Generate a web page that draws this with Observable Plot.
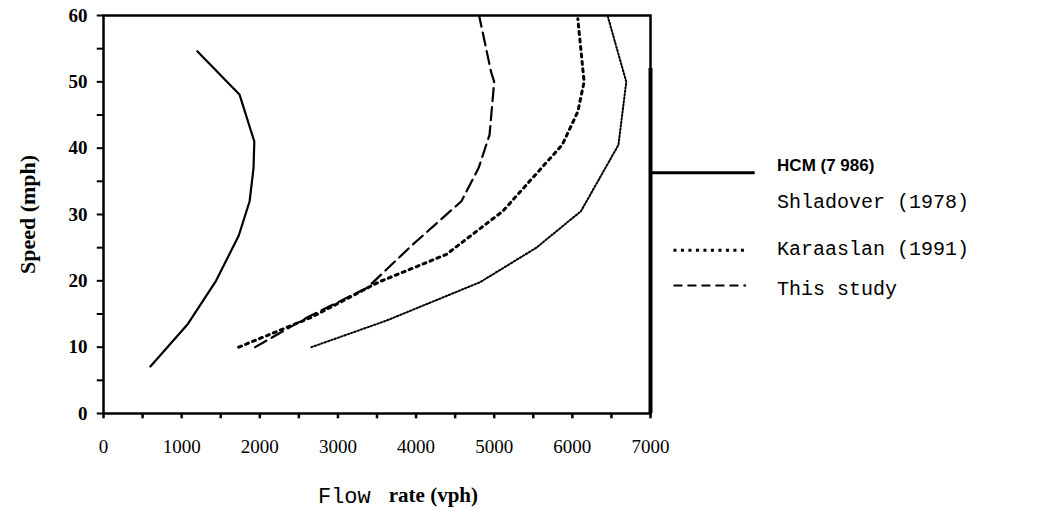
<!DOCTYPE html>
<html>
<head>
<meta charset="UTF-8">
<script src="https://cdn.jsdelivr.net/npm/d3@7"></script>
<script src="https://cdn.jsdelivr.net/npm/@observablehq/plot@0.6"></script>
<style>
  body { margin: 0; background: #fff; }
</style>
</head>
<body>
<div id="chart"></div>
<script>
// flow (vph) vs speed (mph)
const hcmFlow = [600, 1080, 1440, 1730, 1870, 1920, 1930, 1740, 1200];
const hcmSpeed = [7.1, 13.5, 20, 26.8, 32, 37, 41, 48.1, 54.6];

const shlFlow = [2660, 3620, 4820, 5540, 6110, 6590, 6690, 6450];
const shlSpeed = [10, 14, 19.8, 25, 30.5, 40.5, 50, 60];

const karFlow = [1730, 2660, 3520, 4390, 5110, 5870, 6070, 6150, 6070];
const karSpeed = [10, 14.5, 19.8, 24, 30.5, 40.5, 45.5, 50, 59.5];

const studyFlow = [1940, 2610, 3380, 3960, 4580, 4800, 4940, 5000, 4960, 4810];
const studySpeed = [10, 14.5, 19, 25.5, 32, 37, 42, 50, 51.5, 59.8];

const legendNames = ["HCM (7 986)", "Shladover (1978)", "Karaaslan (1991)", "This study"];

const xLabels = [0, 1000, 2000, 3000, 4000, 5000, 6000, 7000];
const yLabels = [0, 10, 20, 30, 40, 50, 60];

const pts = (xs, ys) => xs.map((x, i) => ({x, y: ys[i]}));

const serif = "'Liberation Serif', 'DejaVu Serif', serif";
const mono = "'Liberation Mono', 'DejaVu Sans Mono', monospace";

const plot = Plot.plot({
  width: 1041,
  height: 510,
  marginLeft: 103,
  marginRight: 391,
  marginTop: 15,
  marginBottom: 97,
  x: {type: "linear", domain: [0, 7000], axis: null},
  y: {type: "linear", domain: [0, 60], axis: null},
  marks: [
    // ticks
    Plot.ruleX(d3.range(0, 7001, 500), {x: d => d, y1: 0, y2: -0.8, stroke: "#000", strokeWidth: 2.5, clip: false}),
    Plot.ruleY(d3.range(0, 61, 5), {y: d => d, x1: 0, x2: -80, stroke: "#000", strokeWidth: 2, clip: false}),
    Plot.text(xLabels, {x: d => d, y: 0, dy: 33, text: d => String(d), fontFamily: serif, fontSize: 19}),
    Plot.text(yLabels, {y: d => d, x: 0, dx: -16, textAnchor: "end", text: d => String(d), fontFamily: serif, fontWeight: "bold", fontSize: 19}),
    Plot.frame({stroke: "#000", strokeWidth: 2.5}),
    Plot.ruleX([7000], {y1: 0, y2: 52, stroke: "#000", strokeWidth: 4}),
    // curves
    Plot.line(pts(hcmFlow, hcmSpeed), {x: "x", y: "y", stroke: "#000", strokeWidth: 2.2}),
    Plot.line(pts(shlFlow, shlSpeed), {x: "x", y: "y", stroke: "#000", strokeWidth: 2, strokeDasharray: "1.5,2"}),
    Plot.line(pts(karFlow, karSpeed), {x: "x", y: "y", stroke: "#000", strokeWidth: 3, strokeDasharray: "3,4.5"}),
    Plot.line(pts(studyFlow, studySpeed), {x: "x", y: "y", stroke: "#000", strokeWidth: 2.2, strokeDasharray: "13,6"}),
    // legend
    Plot.ruleY([36.3], {x1: 7000, x2: 8340, stroke: "#000", strokeWidth: 3, clip: false}),
    Plot.ruleY([24.6], {x1: 7300, x2: 8230, stroke: "#000", strokeWidth: 3, strokeDasharray: "3,4.5", clip: false}),
    Plot.ruleY([19.3], {x1: 7300, x2: 8230, stroke: "#000", strokeWidth: 2.2, strokeDasharray: "9,5", clip: false}),
    Plot.text([legendNames[0]], {x: 8620, y: 37.4, text: d => d, textAnchor: "start", fontFamily: "'Liberation Sans Narrow', 'Liberation Sans', sans-serif", fontWeight: "bold", fontSize: 17}),
    Plot.text(legendNames.slice(1), {x: 8620, y: [31.9, 24.9, 18.8], text: d => d, textAnchor: "start", fontFamily: mono, fontSize: 20}),
    // axis titles
    Plot.text(["Speed (mph)"], {x: 0, y: 30, dx: -76, rotate: -90, text: d => d, fontFamily: serif, fontWeight: "bold", fontSize: 22}),
    Plot.text(["Flow"], {x: 3420, y: 0, dy: 82, textAnchor: "end", text: d => d, fontFamily: mono, fontSize: 22}),
    Plot.text(["rate (vph)"], {x: 3420, y: 0, dx: 18, dy: 82, textAnchor: "start", text: d => d, fontFamily: serif, fontWeight: "bold", fontSize: 21})
  ]
});
document.querySelector("#chart").append(plot);
</script>
</body>
</html>
